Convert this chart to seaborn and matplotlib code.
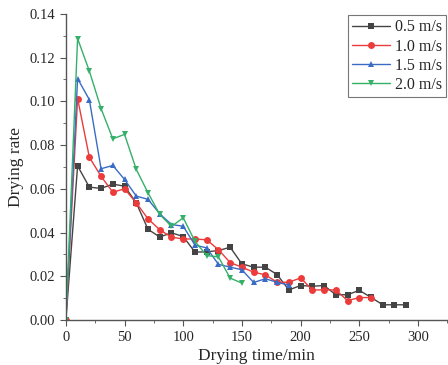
import numpy as np
import pandas as pd
import seaborn as sns
import matplotlib.pyplot as plt
from matplotlib.ticker import MultipleLocator, FuncFormatter

# drying time (min) and drying rate for each air speed
t_05 = [0, 10, 20, 30, 40, 50, 60, 70, 80, 90, 100, 110, 120, 130, 140, 150,
        160, 170, 180, 190, 200, 210, 220, 230, 240, 250, 260, 270, 280, 290]
rate_05 = [0.0, 0.0705, 0.0608, 0.0602, 0.0622, 0.0612, 0.0536, 0.0415, 0.0380, 0.0399,
           0.0382, 0.0311, 0.0312, 0.0318, 0.0333, 0.0257, 0.0242, 0.0242, 0.0208, 0.0138,
           0.0158, 0.0155, 0.0158, 0.0116, 0.0116, 0.0136, 0.0104, 0.0070, 0.0070, 0.0070]

t_10 = [0, 10, 20, 30, 40, 50, 60, 70, 80, 90, 100, 110, 120, 130, 140, 150,
        160, 170, 180, 190, 200, 210, 220, 230, 240, 250, 260]
rate_10 = [0.0, 0.1013, 0.0745, 0.0657, 0.0585, 0.0600, 0.0536, 0.0463, 0.0413, 0.0379,
           0.0371, 0.0371, 0.0367, 0.0322, 0.0263, 0.0242, 0.0219, 0.0207, 0.0173, 0.0173,
           0.0193, 0.0138, 0.0138, 0.0138, 0.0089, 0.0103, 0.0103]

t_15 = [0, 10, 20, 30, 40, 50, 60, 70, 80, 90, 100, 110, 120, 130, 140, 150,
        160, 170, 180, 190]
rate_15 = [0.0, 0.1104, 0.1008, 0.0692, 0.0707, 0.0643, 0.0567, 0.0552, 0.0486, 0.0437,
           0.0429, 0.0343, 0.0330, 0.0255, 0.0242, 0.0230, 0.0172, 0.0189, 0.0173, 0.0160]

t_20 = [0, 10, 20, 30, 40, 50, 60, 70, 80, 90, 100, 110, 120, 130, 140, 150]
rate_20 = [0.0, 0.1287, 0.1139, 0.0967, 0.0829, 0.0849, 0.0689, 0.0582, 0.0483, 0.0428,
           0.0468, 0.0360, 0.0295, 0.0289, 0.0192, 0.0169]

speeds = ['0.5 m/s', '1.0 m/s', '1.5 m/s', '2.0 m/s']
colors = ['#444444', '#ec3b3b', '#3a6cc6', '#35b068']
markers = ['s', 'o', '^', 'v']

frames = []
for name, t, r in zip(speeds, [t_05, t_10, t_15, t_20], [rate_05, rate_10, rate_15, rate_20]):
    frames.append(pd.DataFrame({'t': t, 'rate': r, 'speed': name}))
df = pd.concat(frames, ignore_index=True)

sns.set_style('ticks')
plt.rcParams['font.family'] = ['Liberation Serif', 'DejaVu Serif']

fig = plt.figure(figsize=(4.48, 3.65), dpi=100)
ax = fig.add_axes([0.147, 0.123, 0.853, 0.839])

sns.lineplot(data=df, x='t', y='rate', hue='speed', style='speed',
             palette=colors, markers=markers, dashes=False, markersize=5,
             markeredgewidth=0, linewidth=1.0, ax=ax)

ax.set_xlim(0, 325.6)
ax.set_ylim(0, 0.14)
ax.xaxis.set_major_locator(MultipleLocator(50))
ax.xaxis.set_minor_locator(MultipleLocator(25))
ax.yaxis.set_major_locator(MultipleLocator(0.02))
ax.yaxis.set_minor_locator(MultipleLocator(0.01))
ax.yaxis.set_major_formatter(FuncFormatter(lambda v, p: '%.2f' % v))
ax.tick_params(which='both', direction='out', color='#555555', labelsize=10.5)
ax.tick_params(which='major', length=4)
ax.tick_params(which='minor', length=2.5)
for s in ['top', 'right']:
    ax.spines[s].set_visible(False)
for s in ['left', 'bottom']:
    ax.spines[s].set_color('#555555')
    ax.spines[s].set_linewidth(1.0)

ax.set_xlabel('Drying time/min', fontsize=12.5, labelpad=3)
ax.set_ylabel('Drying rate', fontsize=12.5, labelpad=4)

leg = ax.legend(loc='upper right', bbox_to_anchor=(1.0, 1.0), fontsize=11.5,
                frameon=True, fancybox=False, edgecolor='#555555',
                handlelength=2.4, handletextpad=0.3, borderpad=0.25,
                labelspacing=0.2, borderaxespad=0.1)
leg.get_frame().set_linewidth(0.8)

fig.savefig('out.png', dpi=100)
